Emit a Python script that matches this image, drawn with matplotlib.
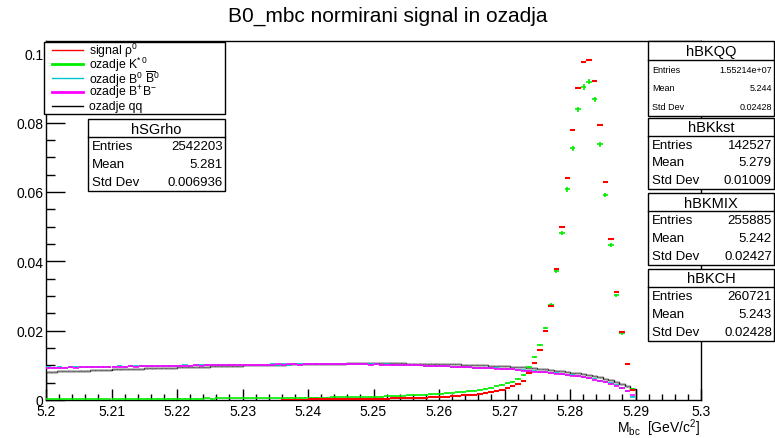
import numpy as np
import matplotlib.pyplot as plt
from matplotlib.patches import Rectangle
from matplotlib.lines import Line2D

plt.rcParams["font.family"] = ["Liberation Sans", "DejaVu Sans"]
plt.rcParams["mathtext.fontset"] = "custom"
plt.rcParams["mathtext.rm"] = "Liberation Sans"
plt.rcParams["mathtext.it"] = "Liberation Sans:italic"
plt.rcParams["mathtext.bf"] = "Liberation Sans:bold"

## Histogram content (normalised, 120 bins in 5.2-5.3, only the first 108 are filled)
n_bins = 120
x_min, x_max = 5.2, 5.3

signal_rho = [
    0, 0, 0, 0, 0, 0, 0, 0, 0, 0,
    0, 0, 0, 0, 0, 0, 0, 0, 0, 0,
    0, 0, 0, 0, 0, 0, 0, 0, 0, 0,
    0, 0, 0, 0, 0, 0, 0, 0, 0, 0,
    0, 0, 0, 0.0001, 0.0001, 0.0001, 0.0001, 0.0001, 0.0002, 0.0002,
    0.0002, 0.0002, 0.0002, 0.0002, 0.0003, 0.0003, 0.0003, 0.0003, 0.0003, 0.0004,
    0.0004, 0.0004, 0.0004, 0.0005, 0.0005, 0.0005, 0.0006, 0.0006, 0.0007, 0.0007,
    0.0008, 0.0008, 0.0009, 0.0010, 0.0011, 0.0012, 0.0013, 0.0014, 0.0015, 0.0017,
    0.0020, 0.0023, 0.0026, 0.0030, 0.0035, 0.0040, 0.0046, 0.0056, 0.0078, 0.0106,
    0.0143, 0.0200, 0.0272, 0.0378, 0.0498, 0.0641, 0.0778, 0.0900, 0.0975, 0.0981,
    0.0920, 0.0792, 0.0628, 0.0464, 0.0312, 0.0195, 0.0104, 0.0030,
]

bkg_kst = [
    0.0002, 0.0002, 0.0002, 0.0002, 0.0002, 0.0003, 0.0002, 0.0003, 0.0003, 0.0003,
    0.0003, 0.0003, 0.0003, 0.0003, 0.0003, 0.0003, 0.0003, 0.0003, 0.0004, 0.0003,
    0.0004, 0.0003, 0.0004, 0.0004, 0.0004, 0.0004, 0.0004, 0.0004, 0.0004, 0.0005,
    0.0004, 0.0005, 0.0005, 0.0005, 0.0005, 0.0005, 0.0005, 0.0005, 0.0006, 0.0005,
    0.0006, 0.0006, 0.0006, 0.0006, 0.0006, 0.0006, 0.0007, 0.0007, 0.0007, 0.0007,
    0.0007, 0.0007, 0.0008, 0.0008, 0.0008, 0.0008, 0.0009, 0.0009, 0.0009, 0.0010,
    0.0010, 0.0010, 0.0011, 0.0011, 0.0012, 0.0012, 0.0013, 0.0013, 0.0014, 0.0015,
    0.0016, 0.0017, 0.0018, 0.0019, 0.0020, 0.0022, 0.0023, 0.0025, 0.0027, 0.0029,
    0.0032, 0.0035, 0.0039, 0.0043, 0.0048, 0.0053, 0.0060, 0.0072, 0.0096, 0.0125,
    0.0159, 0.0208, 0.0274, 0.0371, 0.0482, 0.0607, 0.0726, 0.0838, 0.0903, 0.0918,
    0.0867, 0.0738, 0.0591, 0.0446, 0.0302, 0.0192, 0.0104, 0.0033,
]

bkg_mix = [
    0.0094, 0.0093, 0.0094, 0.0093, 0.0094, 0.0095, 0.0094, 0.0095, 0.0095, 0.0096,
    0.0095, 0.0096, 0.0096, 0.0097, 0.0096, 0.0097, 0.0097, 0.0098, 0.0097, 0.0098,
    0.0098, 0.0099, 0.0098, 0.0099, 0.0099, 0.0100, 0.0099, 0.0100, 0.0100, 0.0101,
    0.0100, 0.0101, 0.0101, 0.0100, 0.0101, 0.0102, 0.0101, 0.0102, 0.0102, 0.0101,
    0.0102, 0.0103, 0.0102, 0.0103, 0.0102, 0.0103, 0.0103, 0.0104, 0.0103, 0.0103,
    0.0104, 0.0103, 0.0104, 0.0103, 0.0104, 0.0103, 0.0103, 0.0104, 0.0103, 0.0103,
    0.0103, 0.0102, 0.0103, 0.0102, 0.0102, 0.0101, 0.0101, 0.0100, 0.0100, 0.0099,
    0.0099, 0.0098, 0.0098, 0.0097, 0.0096, 0.0096, 0.0095, 0.0094, 0.0093, 0.0093,
    0.0092, 0.0092, 0.0091, 0.0090, 0.0089, 0.0088, 0.0087, 0.0086, 0.0084, 0.0083,
    0.0082, 0.0080, 0.0079, 0.0077, 0.0075, 0.0073, 0.0071, 0.0069, 0.0066, 0.0063,
    0.0060, 0.0056, 0.0052, 0.0048, 0.0042, 0.0036, 0.0027, 0.0010,
]

bkg_charged = [
    0.0092, 0.0093, 0.0092, 0.0093, 0.0094, 0.0093, 0.0094, 0.0094, 0.0095, 0.0094,
    0.0095, 0.0095, 0.0096, 0.0095, 0.0096, 0.0097, 0.0096, 0.0097, 0.0097, 0.0098,
    0.0097, 0.0098, 0.0098, 0.0099, 0.0098, 0.0099, 0.0099, 0.0100, 0.0099, 0.0100,
    0.0100, 0.0101, 0.0100, 0.0101, 0.0101, 0.0102, 0.0101, 0.0102, 0.0101, 0.0102,
    0.0102, 0.0102, 0.0103, 0.0102, 0.0103, 0.0103, 0.0102, 0.0103, 0.0103, 0.0104,
    0.0103, 0.0104, 0.0103, 0.0103, 0.0104, 0.0103, 0.0104, 0.0103, 0.0103, 0.0102,
    0.0103, 0.0102, 0.0102, 0.0101, 0.0102, 0.0101, 0.0100, 0.0101, 0.0100, 0.0099,
    0.0099, 0.0098, 0.0097, 0.0097, 0.0096, 0.0095, 0.0095, 0.0094, 0.0093, 0.0092,
    0.0092, 0.0091, 0.0090, 0.0089, 0.0089, 0.0088, 0.0086, 0.0085, 0.0084, 0.0082,
    0.0081, 0.0080, 0.0078, 0.0076, 0.0075, 0.0073, 0.0070, 0.0068, 0.0065, 0.0062,
    0.0059, 0.0055, 0.0051, 0.0046, 0.0041, 0.0034, 0.0025, 0.0014,
]

bkg_qq = [
    0.0082, 0.0082, 0.0083, 0.0083, 0.0084, 0.0084, 0.0085, 0.0085, 0.0086, 0.0086,
    0.0087, 0.0087, 0.0088, 0.0088, 0.0089, 0.0089, 0.0090, 0.0090, 0.0091, 0.0091,
    0.0092, 0.0092, 0.0093, 0.0093, 0.0094, 0.0094, 0.0095, 0.0095, 0.0096, 0.0096,
    0.0097, 0.0097, 0.0098, 0.0098, 0.0099, 0.0099, 0.0100, 0.0100, 0.0100, 0.0101,
    0.0101, 0.0102, 0.0102, 0.0102, 0.0103, 0.0103, 0.0103, 0.0104, 0.0104, 0.0104,
    0.0104, 0.0105, 0.0105, 0.0105, 0.0105, 0.0106, 0.0106, 0.0106, 0.0106, 0.0106,
    0.0106, 0.0106, 0.0106, 0.0106, 0.0106, 0.0106, 0.0105, 0.0105, 0.0105, 0.0105,
    0.0105, 0.0105, 0.0104, 0.0104, 0.0103, 0.0103, 0.0102, 0.0102, 0.0101, 0.0101,
    0.0100, 0.0099, 0.0099, 0.0098, 0.0097, 0.0096, 0.0095, 0.0094, 0.0092, 0.0091,
    0.0089, 0.0088, 0.0086, 0.0085, 0.0083, 0.0081, 0.0079, 0.0077, 0.0074, 0.0071,
    0.0068, 0.0065, 0.0061, 0.0057, 0.0052, 0.0046, 0.0039, 0.0031,
]

# Stat box numbers
entries = {"hSGrho": 2542203, "hBKQQ": 15521400, "hBKkst": 142527, "hBKMIX": 255885, "hBKCH": 260721}
stat_rows = {
    "hSGrho": ["2542203", "5.281", "0.006936"],
    "hBKQQ": ["1.55214e+07", "5.244", "0.02428"],
    "hBKkst": ["142527", "5.279", "0.01009"],
    "hBKMIX": ["255885", "5.242", "0.02427"],
    "hBKCH": ["260721", "5.243", "0.02428"],
}

legend_labels = [
    "signal ρ$^{0}$",
    r"ozadje K$^{*\,0}$",
    r"ozadje B$^{0}$ $\overline{\mathrm{B}}^{0}$",
    r"ozadje B$^{+}$B$^{-}$",
    "ozadje qq",
]
x_ticks = [5.2, 5.21, 5.22, 5.23, 5.24, 5.25, 5.26, 5.27, 5.28, 5.29, 5.3]
x_tick_labels = ["5.2", "5.21", "5.22", "5.23", "5.24", "5.25", "5.26", "5.27", "5.28", "5.29", "5.3"]
y_ticks = [0, 0.02, 0.04, 0.06, 0.08, 0.1]
y_tick_labels = ["0", "0.02", "0.04", "0.06", "0.08", "0.1"]

W, H = 775, 439


def fx(px):
    return px / W


def fy(py):
    return 1 - py / H


fig = plt.figure(figsize=(W / 100, H / 100), dpi=100)
fig.patch.set_facecolor("white")
ax = fig.add_axes([fx(46), fy(401), fx(701) - fx(46), fy(42) - fy(401)])

edges = np.linspace(x_min, x_max, n_bins + 1)
bw = edges[1] - edges[0]


def draw_hist(values, n_entries, color, lw, z):
    v = np.asarray(values)
    c = edges[: len(v)] + bw / 2
    m = v > 0
    err = np.sqrt(v[m] / n_entries)
    ax.errorbar(c[m], v[m], xerr=bw / 2, yerr=err, fmt="none",
                ecolor=color, elinewidth=lw, capsize=0, zorder=z)


# Backgrounds first, peaking samples on top
ax.stairs(bkg_qq, edges[: len(bkg_qq) + 1], color="black", lw=1.0, zorder=2)
draw_hist(bkg_qq, entries["hBKQQ"], "#777777", 1.0, 2)
draw_hist(bkg_mix, entries["hBKMIX"], "#00c4cc", 1.2, 3)
draw_hist(bkg_charged, entries["hBKCH"], "#ff00ff", 1.2, 3)
draw_hist(bkg_kst, entries["hBKkst"], "#00ee00", 1.2, 4)
draw_hist(signal_rho, entries["hSGrho"], "#ff0000", 1.5, 5)

ax.set_xlim(x_min, x_max)
ax.set_ylim(0, 0.1035)
ax.set_xticks(x_ticks)
ax.set_xticklabels(x_tick_labels)
ax.set_yticks(y_ticks)
ax.set_yticklabels(y_tick_labels)
ax.set_xticks(np.arange(5.2, 5.3001, 0.002), minor=True)
ax.set_yticks(np.arange(0, 0.1031, 0.005), minor=True)
ax.tick_params(axis="x", which="major", direction="in", length=8, width=1, labelsize=10, pad=3)
ax.tick_params(axis="x", which="minor", direction="in", length=4, width=1)
ax.tick_params(axis="y", which="major", direction="in", length=13.5, width=1, labelsize=10, pad=2)
ax.tick_params(axis="y", which="minor", direction="in", length=6.8, width=1)
for s in ax.spines.values():
    s.set_linewidth(1)

fig.text(0.5, fy(22), "B0_mbc normirani signal in ozadja", ha="center", va="baseline", fontsize=15)
fig.text(fx(700), fy(428), r"M$_{\mathrm{bc}}$  [GeV/c$^{2}$]", ha="right", va="center", fontsize=10)

# Legend box (ROOT TLegend look)
fig.add_artist(Rectangle((fx(44), fy(115)), fx(225) - fx(44), fy(43) - fy(115),
                         transform=fig.transFigure, facecolor="white", edgecolor="black", lw=1, zorder=10))
legend_colors = ["#ff0000", "#00ee00", "#00c4cc", "#ff00ff", "black"]
legend_lw = [1.0, 2.0, 1.0, 2.0, 1.0]
for k, (lab, col, lw) in enumerate(zip(legend_labels, legend_colors, legend_lw)):
    yy = 51 + k * 14
    fig.add_artist(Line2D([fx(52), fx(83)], [fy(yy), fy(yy)], transform=fig.transFigure,
                          color=col, lw=lw, zorder=11))
    fig.text(fx(89), fy(yy), lab, ha="left", va="center", fontsize=8.8, zorder=11)


def stat_box(name, left, top, right, bottom, fs_title, fs_rows):
    fig.add_artist(Rectangle((fx(left), fy(bottom)), fx(right) - fx(left), fy(top) - fy(bottom),
                             transform=fig.transFigure, facecolor="white", edgecolor="black",
                             lw=1, zorder=10))
    div = top + (bottom - top) / 4
    fig.add_artist(Line2D([fx(left), fx(right)], [fy(div), fy(div)], transform=fig.transFigure,
                          color="black", lw=1, zorder=11))
    fig.text(fx((left + right) / 2), fy((top + div) / 2 + 0.5), name, ha="center", va="center",
             fontsize=fs_title, zorder=11)
    step = (bottom - div) / 3
    for k, (lab, val) in enumerate(zip(["Entries", "Mean", "Std Dev"], stat_rows[name])):
        yy = div + step * (k + 0.5)
        fig.text(fx(left + 4), fy(yy), lab, ha="left", va="center", fontsize=fs_rows, zorder=11)
        fig.text(fx(right - 2), fy(yy), val, ha="right", va="center", fontsize=fs_rows, zorder=11)


stat_box("hSGrho", 88, 120, 225, 192, 10.5, 9.5)
stat_box("hBKQQ", 648, 42, 774, 117, 10.5, 6.5)
stat_box("hBKkst", 648, 119, 774, 190, 10.5, 9.5)
stat_box("hBKMIX", 648, 194, 774, 266, 10.5, 9.5)
stat_box("hBKCH", 648, 270, 774, 342, 10.5, 9.5)

fig.savefig("out.png", dpi=100)
